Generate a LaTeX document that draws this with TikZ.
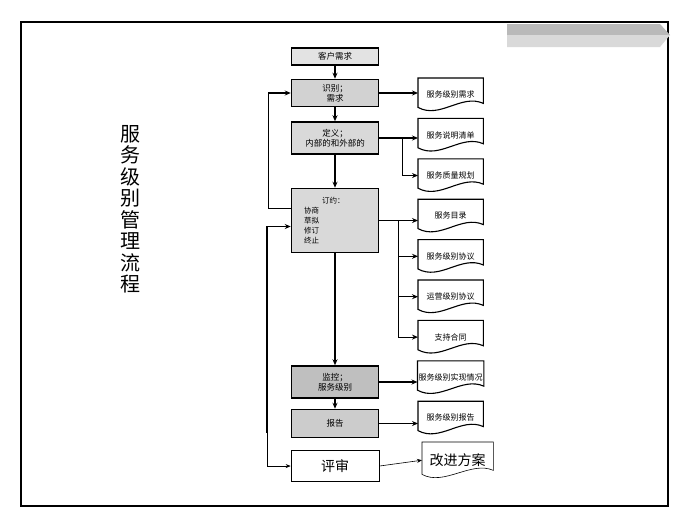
\documentclass[tikz,border=0pt]{standalone}
\usepackage{fontspec}
\setmainfont{Noto Sans CJK SC}
\usetikzlibrary{arrows.meta, positioning}

\begin{document}
\begin{tikzpicture}[x=1pt, y=-1pt,
  stage/.style={draw, line width=1.5pt, fill=gray!35, minimum width=87pt, align=center, inner sep=1pt, font=\fontsize{8.5}{10}\selectfont},
  doc/.style={minimum width=65pt, minimum height=33pt, inner sep=1pt, font=\fontsize{8}{10}\selectfont,
    append after command={\pgfextra{\let\docnode\tikzlastnode
      \draw[line width=#1] (\docnode.north west) -- (\docnode.north east) -- ([yshift=8pt]\docnode.south east)
        .. controls +(-22pt,10pt) and +(22pt,-12pt) .. ([yshift=4pt]\docnode.south west) -- cycle;}}},
  doc/.default=1.1pt,
  flow/.style={-{Stealth[length=6pt, width=5pt]}, line width=1.2pt},
  thinflow/.style={-{Stealth[length=5pt, width=4pt]}, line width=0.6pt}
]
  \useasboundingbox (0,0) rectangle (692,525);
  \draw[line width=1.5pt] (21,22) rectangle (668,506);
  % blurred mark, top right
  \fill[gray!55] (507,24) -- (660,24) -- (670,35) -- (507,35) -- cycle;
  \fill[gray!30] (507,35) -- (670,35) -- (660,47) -- (507,47) -- cycle;

  \node[font=\fontsize{20}{21.5}\selectfont, align=center] (title) at (130,209) {服\\务\\级\\别\\管\\理\\流\\程};

  % main column
  \node[stage, fill=gray!22, minimum height=17pt] (need) at (335,56.5) {客户需求};
  \node[stage, minimum height=27pt, below=13pt of need] (ident) {识别；\\需求};
  \node[stage, fill=gray!30, minimum height=32pt, below=14pt of ident] (define) {定义；\\内部的和外部的};
  \node[stage, fill=gray!30, minimum height=64pt, below=33pt of define, text width=62pt, align=left, font=\fontsize{7.5}{10}\selectfont] (contract) {\hspace*{18pt}订约：\\协商\\草拟\\修订\\终止};
  \node[stage, fill=gray!50, minimum height=32pt, below=112pt of contract] (monitor) {监控；\\服务级别};
  \node[stage, fill=gray!40, minimum height=28pt, below=10pt of monitor] (report) {报告};
  \node[draw, line width=0.6pt, minimum width=88pt, minimum height=31pt, below=12pt of report, font=\fontsize{14}{16}\selectfont] (review) {评审};

  % documents
  \node[doc, anchor=north west] (docA) at (418,78) {服务级别需求};
  \node[doc, below=7pt of docA] (docB) {服务说明清单};
  \node[doc, below=7pt of docB] (docC) {服务质量规划};
  \node[doc, below=7pt of docC] (docD) {服务目录};
  \node[doc, below=7pt of docD] (docE) {服务级别协议};
  \node[doc, below=7pt of docE] (docF) {运营级别协议};
  \node[doc, below=7pt of docF] (docG) {支持合同};
  \node[doc, below=7pt of docG] (docH) {服务级别实现情况};
  \node[doc, below=7pt of docH] (docI) {服务级别报告};
  \node[doc=0.6pt, anchor=north west, minimum width=71pt, minimum height=36pt, font=\fontsize{14}{16}\selectfont] (improve) at (422,442) {改进方案};

  % connectors
  \draw[flow] (need) -- (ident);
  \draw[flow] (ident) -- (define);
  \draw[flow] (define) -- (contract);
  \draw[flow] (contract) -- (monitor);
  \draw[flow] (monitor) -- (report);

  \draw[flow] (ident) -- (ident -| docA.west);
  \draw[flow] (define) -- (define -| docB.west);
  \coordinate (splitB) at ([xshift=23pt]define.east);
  \draw[flow] (splitB) |- (docC.west);
  \draw[flow] (contract) -- (contract -| docD.west);
  \coordinate (splitD) at ([xshift=19pt]contract.east);
  \foreach \d in {docE,docF,docG}
    \draw[flow] (splitD) |- (\d.west);
  \draw[flow] (monitor) -- (monitor -| docH.west);
  \draw[flow] (report) -- (report -| docI.west);

  % feedback
  \draw[flow] ([yshift=12pt]contract.west) -- ++(-22pt,0) |- (ident.west);
  \coordinate (fb) at (267,433);
  \draw[flow] (fb) |- ([yshift=-6pt]contract.west);
  \draw[thinflow] (fb) |- (review.west);
  \draw[thinflow] (review.east) -- (improve.west);
\end{tikzpicture}
\end{document}
